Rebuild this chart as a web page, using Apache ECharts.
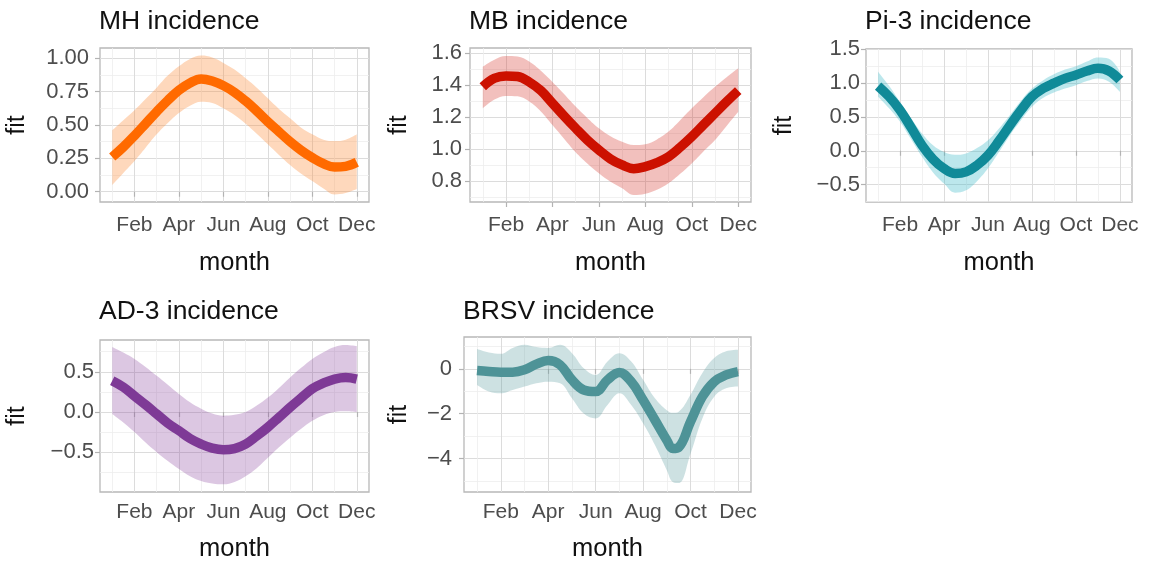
<!DOCTYPE html>
<html><head><meta charset="utf-8">
<script src="https://cdn.jsdelivr.net/npm/echarts@6/dist/echarts.min.js"></script>
<style>html,body{margin:0;padding:0;background:#fff}#c{width:1158px;height:565px}</style>
</head><body><div id="c"></div>
<script>
// ---------- shared x axis ----------
const monthTicks = [2, 4, 6, 8, 10, 12];
const monthLabels = ['Feb', 'Apr', 'Jun', 'Aug', 'Oct', 'Dec'];
const halfMonths = [1, 1.5, 2, 2.5, 3, 3.5, 4, 4.5, 5, 5.5, 6, 6.5, 7, 7.5, 8, 8.5, 9, 9.5, 10, 10.5, 11, 11.5, 12];

// ---------- MH incidence ----------
const mhFit   = [0.26, 0.335, 0.42, 0.51, 0.60, 0.685, 0.76, 0.815, 0.845, 0.83, 0.795, 0.745, 0.68, 0.605, 0.525, 0.45, 0.375, 0.31, 0.255, 0.21, 0.185, 0.19, 0.22];
const mhLower = [0.05, 0.14, 0.23, 0.33, 0.43, 0.515, 0.59, 0.645, 0.675, 0.665, 0.625, 0.575, 0.51, 0.435, 0.355, 0.275, 0.20, 0.135, 0.08, 0.025, -0.02, -0.01, 0.02];
const mhUpper = [0.46, 0.535, 0.61, 0.695, 0.78, 0.87, 0.94, 0.995, 1.02, 1.005, 0.965, 0.915, 0.85, 0.78, 0.70, 0.62, 0.55, 0.48, 0.43, 0.39, 0.38, 0.39, 0.43];
const mhYTicks = [0, 0.25, 0.5, 0.75, 1];
const mhYLabels = ['0.00', '0.25', '0.50', '0.75', '1.00'];

// ---------- MB incidence ----------
const mbFit   = [1.39, 1.443, 1.458, 1.454, 1.42, 1.366, 1.287, 1.207, 1.13, 1.057, 0.994, 0.938, 0.90, 0.877, 0.89, 0.915, 0.952, 1.011, 1.078, 1.151, 1.224, 1.297, 1.366];
const mbLower = [1.255, 1.31, 1.333, 1.33, 1.297, 1.235, 1.15, 1.065, 0.98, 0.91, 0.848, 0.795, 0.754, 0.712, 0.72, 0.745, 0.785, 0.845, 0.91, 0.985, 1.057, 1.145, 1.234];
const mbUpper = [1.516, 1.56, 1.583, 1.58, 1.548, 1.49, 1.42, 1.345, 1.266, 1.195, 1.13, 1.08, 1.046, 1.025, 1.03, 1.06, 1.109, 1.18, 1.255, 1.325, 1.39, 1.45, 1.506];
const mbYTicks = [0.8, 1.0, 1.2, 1.4, 1.6];
const mbYLabels = ['0.8', '1.0', '1.2', '1.4', '1.6'];

// ---------- Pi-3 incidence ----------
const piFit   = [0.956, 0.80, 0.60, 0.344, 0.08, -0.125, -0.264, -0.337, -0.313, -0.214, -0.066, 0.146, 0.378, 0.60, 0.80, 0.92, 1.0, 1.07, 1.12, 1.18, 1.22, 1.18, 1.045];
const piLower = [0.80, 0.63, 0.43, 0.17, -0.09, -0.32, -0.486, -0.62, -0.585, -0.45, -0.26, -0.02, 0.23, 0.45, 0.65, 0.78, 0.86, 0.92, 0.97, 1.03, 1.07, 1.02, 0.87];
const piUpper = [1.17, 0.96, 0.72, 0.48, 0.254, 0.08, -0.02, -0.06, -0.04, 0.04, 0.155, 0.33, 0.53, 0.74, 0.92, 1.04, 1.13, 1.2, 1.25, 1.32, 1.38, 1.36, 1.17];
const piYTicks = [-0.5, 0, 0.5, 1.0, 1.5];
const piYLabels = ['\u22120.5', '0.0', '0.5', '1.0', '1.5'];

// ---------- AD-3 incidence ----------
const adFit   = [0.39, 0.31, 0.20, 0.09, -0.025, -0.14, -0.233, -0.33, -0.40, -0.45, -0.47, -0.455, -0.40, -0.30, -0.19, -0.067, 0.058, 0.175, 0.29, 0.36, 0.41, 0.43, 0.41];
const adLower = [-0.025, -0.13, -0.25, -0.38, -0.5, -0.61, -0.71, -0.80, -0.86, -0.89, -0.9, -0.87, -0.80, -0.70, -0.57, -0.44, -0.32, -0.21, -0.11, -0.04, 0.0, 0.01, 0.0];
const adUpper = [0.81, 0.74, 0.66, 0.56, 0.45, 0.34, 0.225, 0.12, 0.04, -0.02, -0.046, -0.035, 0.0, 0.08, 0.18, 0.30, 0.43, 0.55, 0.66, 0.745, 0.81, 0.835, 0.82];
const adYTicks = [-0.5, 0, 0.5];
const adYLabels = ['\u22120.5', '0.0', '0.5'];

// ---------- BRSV incidence ----------
const brMonths = [1, 1.5, 2, 2.5, 3, 3.5, 4, 4.5, 5, 5.5, 6, 6.5, 7, 7.5, 8, 8.5, 9, 9.25, 9.5, 10, 10.5, 11, 11.5, 12];
const brFit   = [-0.075, -0.12, -0.15, -0.15, -0.045, 0.21, 0.37, 0.18, -0.49, -0.94, -1.01, -0.49, -0.16, -0.57, -1.39, -2.28, -3.18, -3.55, -3.5, -2.36, -1.24, -0.57, -0.27, -0.12];
const brLower = [-0.72, -1.01, -1.09, -0.94, -0.79, -0.64, -0.57, -0.64, -1.31, -1.99, -2.21, -1.61, -1.09, -1.61, -2.43, -3.40, -4.52, -5.04, -5.09, -3.78, -2.21, -1.24, -0.87, -0.79];
const brUpper = [0.88, 0.73, 0.67, 0.93, 1.07, 0.97, 0.93, 1.07, 0.70, 0.03, -0.27, 0.33, 0.70, 0.33, -0.49, -1.31, -1.84, -1.96, -1.91, -1.16, -0.19, 0.48, 0.78, 0.85];
const brYTicks = [-4, -2, 0];
const brYLabels = ['\u22124', '\u22122', '0'];

// ---------- layout / style ----------
const FONT = 'Liberation Sans, Arial, Helvetica, sans-serif';
const panels = [
  { title: 'MH incidence', x: halfMonths, fit: mhFit, lo: mhLower, hi: mhUpper, yt: mhYTicks, yl: mhYLabels,
    grid: { left: 100, top: 48, width: 269, height: 154 }, yMin: -0.077, yMax: 1.077, step: 0.25,
    line: '#FF6A00', band: 'rgba(253,140,60,0.34)', nameGap: 70, labMargin: 11, titleTop: 8, xMargin: 13, xNameGap: 48 },
  { title: 'MB incidence', x: halfMonths, fit: mbFit, lo: mbLower, hi: mbUpper, yt: mbYTicks, yl: mbYLabels,
    grid: { left: 470, top: 48, width: 281, height: 154 }, yMin: 0.668, yMax: 1.633, step: 0.2,
    line: '#CC1100', band: 'rgba(215,60,50,0.32)', nameGap: 58, labMargin: 8, titleTop: 8, xMargin: 13, xNameGap: 48 },
  { title: 'Pi-3 incidence', x: halfMonths, fit: piFit, lo: piLower, hi: piUpper, yt: piYTicks, yl: piYLabels,
    grid: { left: 866, top: 49, width: 266, height: 153 }, yMin: -0.758, yMax: 1.505, step: 0.5,
    line: '#108A98', band: 'rgba(60,185,200,0.34)', nameGap: 69, labMargin: 6, titleTop: 8, xMargin: 13, xNameGap: 48 },
  { title: 'AD-3 incidence', x: halfMonths, fit: adFit, lo: adLower, hi: adUpper, yt: adYTicks, yl: adYLabels,
    grid: { left: 100, top: 340, width: 269, height: 152 }, yMin: -0.996, yMax: 0.896, step: 0.5,
    line: '#7E3A96', band: 'rgba(140,70,160,0.30)', nameGap: 70, labMargin: 6, titleTop: 298, xMargin: 10, xNameGap: 44 },
  { title: 'BRSV incidence', x: brMonths, fit: brFit, lo: brLower, hi: brUpper, yt: brYTicks, yl: brYLabels,
    grid: { left: 464, top: 337, width: 287, height: 155 }, yMin: -5.49, yMax: 1.42, step: 2,
    line: '#4E9397', band: 'rgba(90,155,160,0.30)', nameGap: 52, labMargin: 12, titleTop: 298, xMargin: 10, xNameGap: 44 }
];

function pick(ticks, labels, v) {
  for (let i = 0; i < ticks.length; i++) if (Math.abs(ticks[i] - v) < 1e-7) return labels[i];
  return '';
}

const option = { animation: false, backgroundColor: '#fff', title: [], grid: [], xAxis: [], yAxis: [], series: [] };

panels.forEach((p, i) => {
  option.title.push({
    text: p.title, left: p.grid.left - 1, top: p.titleTop, padding: 0,
    textStyle: { fontSize: 26.5, fontWeight: 'normal', color: '#111', fontFamily: FONT }
  });
  option.grid.push(Object.assign({ show: true, borderColor: '#b8b8b8', borderWidth: 1.3, backgroundColor: '#fff', containLabel: false }, p.grid));
  option.xAxis.push({
    gridIndex: i, type: 'value', min: 0.45, max: 12.55, minInterval: 2, maxInterval: 2,
    axisLine: { show: false },
    axisTick: { show: true, length: 5, lineStyle: { color: '#b3b3b3', width: 1.2 }, customValues: monthTicks },
    axisLabel: { customValues: monthTicks, formatter: v => pick(monthTicks, monthLabels, v),
      fontSize: 21, color: '#4d4d4d', margin: p.xMargin, fontFamily: FONT },
    splitLine: { show: true, lineStyle: { color: '#dcdcdc', width: 1 } },
    minorTick: { show: false, splitNumber: 2 },
    minorSplitLine: { show: true, lineStyle: { color: '#ededed', width: 0.8 } },
    name: 'month', nameLocation: 'middle', nameGap: p.xNameGap,
    nameTextStyle: { fontSize: 25.5, color: '#111', fontFamily: FONT }
  });
  option.yAxis.push({
    gridIndex: i, type: 'value', min: p.yMin, max: p.yMax, minInterval: p.step, maxInterval: p.step,
    axisLine: { show: false },
    axisTick: { show: true, length: 5, lineStyle: { color: '#b3b3b3', width: 1.2 }, customValues: p.yt },
    axisLabel: { customValues: p.yt, formatter: v => pick(p.yt, p.yl, v),
      fontSize: 22, color: '#4d4d4d', margin: p.labMargin, fontFamily: FONT },
    splitLine: { show: true, lineStyle: { color: '#dcdcdc', width: 1 } },
    minorTick: { show: false, splitNumber: 2 },
    minorSplitLine: { show: true, lineStyle: { color: '#ededed', width: 0.8 } },
    name: 'fit', nameLocation: 'middle', nameGap: p.nameGap,
    nameTextStyle: { fontSize: 25, color: '#111', fontFamily: FONT }
  });
  // confidence band: lower (invisible) + stacked width; data as [y, x] so y is the stacked dim
  option.series.push({
    type: 'line', xAxisIndex: i, yAxisIndex: i, stack: 'band' + i, stackStrategy: 'all', smooth: 0.4, symbol: 'none', silent: true,
    encode: { x: 1, y: 0 }, data: p.x.map((m, k) => [p.lo[k], m]),
    lineStyle: { opacity: 0, width: 0 }, z: 2
  });
  option.series.push({
    type: 'line', xAxisIndex: i, yAxisIndex: i, stack: 'band' + i, stackStrategy: 'all', smooth: 0.4, symbol: 'none', silent: true,
    encode: { x: 1, y: 0 }, data: p.x.map((m, k) => [p.hi[k] - p.lo[k], m]),
    lineStyle: { opacity: 0, width: 0 }, areaStyle: { color: p.band, opacity: 1 }, z: 2
  });
  option.series.push({
    type: 'line', xAxisIndex: i, yAxisIndex: i, smooth: 0.4, symbol: 'none', silent: true,
    data: p.x.map((m, k) => [m, p.fit[k]]),
    lineStyle: { color: p.line, width: 9.5, cap: 'butt', join: 'round' }, z: 3
  });
});

const chart = echarts.init(document.getElementById('c'), null, { renderer: 'canvas' });
chart.setOption(option);
</script></body></html>
